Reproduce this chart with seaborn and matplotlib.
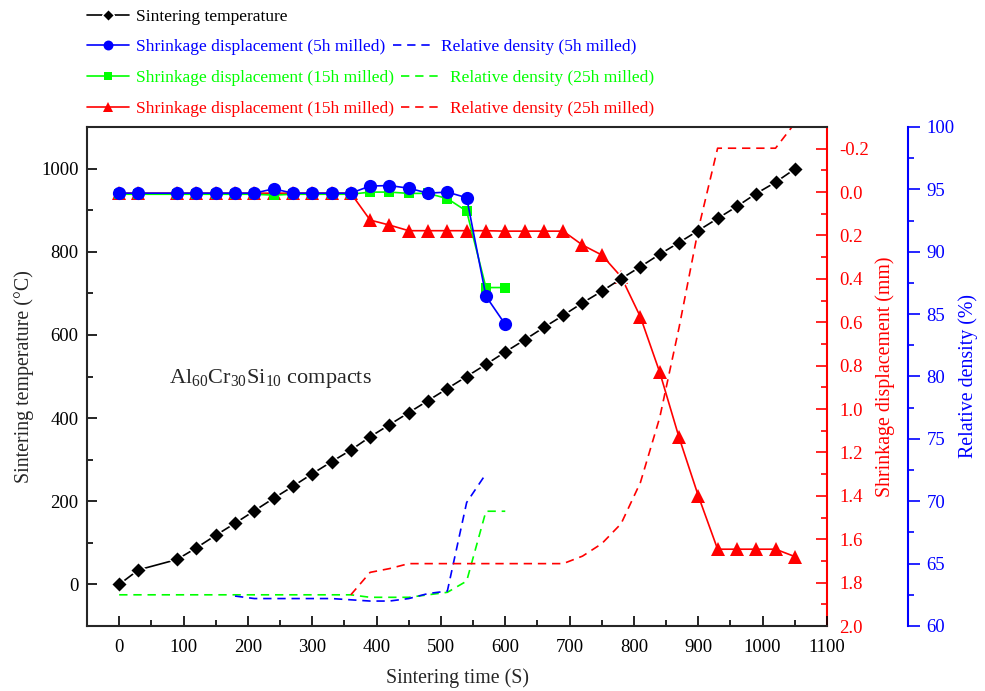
import numpy as np
import pandas as pd
import seaborn as sns
import matplotlib
matplotlib.use("Agg")
import matplotlib.pyplot as plt
from matplotlib.ticker import MultipleLocator, FormatStrFormatter

# Nhiệt độ thiêu kết theo thời gian
t_temp = [0, 30, 90, 120, 150, 180, 210, 240, 270, 300, 330, 360, 390, 420, 450, 480, 510, 540,
          570, 600, 630, 660, 690, 720, 750, 780, 810, 840, 870, 900, 930, 960, 990, 1020, 1050]
temp = [0, 35, 60, 88, 118, 147, 177, 207, 236, 266, 295, 323, 355, 384, 413, 442, 471, 500,
        529, 559, 588, 618, 647, 677, 705, 735, 764, 794, 822, 851, 880, 909, 940, 967, 999]

# Độ co ngót (mm)
t_shr = [0, 30, 90, 120, 150, 180, 210, 240, 270, 300, 330, 360, 390, 420, 450, 480, 510, 540, 570, 600]
shr_5h = [0.005, 0.005, 0.005, 0.005, 0.005, 0.005, 0.005, -0.015, 0.005, 0.005, 0.005, 0.005,
          -0.028, -0.03, -0.018, 0.005, 0.0, 0.026, 0.48, 0.61]
shr_15h = [0.01, 0.01, 0.01, 0.01, 0.01, 0.01, 0.01, 0.014, 0.01, 0.01, 0.01, 0.01,
           0.0, 0.0, 0.006, 0.006, 0.03, 0.088, 0.44, 0.44]
shr_25h = [0.005, 0.005, 0.005, 0.005, 0.005, 0.005, 0.005, 0.005, 0.005, 0.005, 0.005, 0.005,
           0.129, 0.152, 0.178, 0.178, 0.178, 0.178, 0.178, 0.18, 0.18, 0.18, 0.18, 0.244, 0.29,
           0.39, 0.575, 0.83, 1.13, 1.40, 1.646, 1.646, 1.646, 1.646, 1.68]

# Mật độ tương đối (%)
t_rd_5h = [180, 210, 240, 270, 300, 330, 360, 390, 420, 450, 480, 510, 540, 570]
rd_5h = [62.4, 62.2, 62.2, 62.2, 62.2, 62.2, 62.1, 62.0, 62.0, 62.2, 62.6, 62.8, 69.9, 72.2]
t_rd_15h = [0, 30, 60, 90, 120, 150, 180, 210, 240, 270, 300, 330, 360, 390, 420, 450,
            480, 510, 540, 570, 600]
rd_15h = [62.5, 62.5, 62.5, 62.5, 62.5, 62.5, 62.5, 62.5, 62.5, 62.5, 62.5, 62.5, 62.5, 62.3,
          62.3, 62.3, 62.5, 62.7, 63.6, 69.2, 69.2]
t_rd_25h = [360, 390, 420, 450, 480, 510, 540, 570, 600, 630, 660, 690, 720, 750, 780, 810,
            840, 870, 900, 930, 960, 990, 1020, 1050]
rd_25h = [62.5, 64.3, 64.6, 65.0, 65.0, 65.0, 65.0, 65.0, 65.0, 65.0, 65.0, 65.0, 65.6, 66.6,
          68.2, 71.5, 76.7, 83.9, 91.8, 98.3, 98.3, 98.3, 98.3, 100.3]

lbl_temp = "Sintering temperature"
lbl_shr = ["Shrinkage displacement (5h milled)", "Shrinkage displacement (15h milled)",
           "Shrinkage displacement (15h milled)"]
lbl_rd = ["Relative density (5h milled)", "Relative density (25h milled)",
          "Relative density (25h milled)"]

BLUE, GREEN, RED = "#0000ff", "#00ff00", "#ff0000"

sns.set_theme(style="ticks")
plt.rcParams["font.family"] = ["Liberation Serif", "DejaVu Serif"]
plt.rcParams["mathtext.fontset"] = "custom"
plt.rcParams["mathtext.rm"] = "Liberation Serif"
plt.rcParams["axes.unicode_minus"] = False

fig = plt.figure(figsize=(9.85, 6.91), dpi=100)
ax = fig.add_subplot(111)
fig.subplots_adjust(left=87/985, right=827/985, top=1-127/691, bottom=1-626/691)
ax2 = ax.twinx()
ax3 = ax.twinx()
ax3.set_zorder(1)
ax2.set_zorder(2)
ax.set_zorder(3)
for a in (ax, ax2, ax3):
    a.patch.set_visible(False)

# Mật độ tương đối (nét đứt)
dash = (5, 3.5)
sns.lineplot(x=t_rd_15h, y=rd_15h, ax=ax3, color=GREEN, lw=1.2, dashes=False)
l_rd15 = ax3.lines[-1]
sns.lineplot(x=t_rd_5h, y=rd_5h, ax=ax3, color=BLUE, lw=1.2, dashes=False)
l_rd5 = ax3.lines[-1]
sns.lineplot(x=t_rd_25h, y=rd_25h, ax=ax3, color=RED, lw=1.2, dashes=False)
l_rd25 = ax3.lines[-1]
for l in (l_rd5, l_rd15, l_rd25):
    l.set_dashes(dash)

# Độ co ngót
sns.lineplot(x=t_temp, y=shr_25h, ax=ax2, color=RED, lw=1.2, marker="^", markersize=10,
             markeredgecolor=RED, markeredgewidth=0)
l_s25 = ax2.lines[-1]
sns.lineplot(x=t_shr, y=shr_15h, ax=ax2, color=GREEN, lw=1.2, marker="s", markersize=7,
             markeredgecolor=GREEN, markeredgewidth=0)
l_s15 = ax2.lines[-1]
sns.lineplot(x=t_shr, y=shr_5h, ax=ax2, color=BLUE, lw=1.2, marker="o", markersize=9.5,
             markeredgecolor=BLUE, markeredgewidth=0)
l_s5 = ax2.lines[-1]

# Nhiệt độ (viền trắng tạo khoảng hở giữa đường và ký hiệu)
sns.lineplot(x=t_temp, y=temp, ax=ax, color="black", lw=1.2, marker="D", markersize=8.2,
             markeredgecolor="white", markeredgewidth=1.0)
l_temp = ax.lines[-1]

# Trục
ax.set_xlim(-50, 1100)
ax.set_ylim(-100, 1100)
ax.xaxis.set_major_locator(MultipleLocator(100))
ax.xaxis.set_minor_locator(MultipleLocator(50))
ax.yaxis.set_major_locator(MultipleLocator(200))
ax.yaxis.set_minor_locator(MultipleLocator(100))
ax.tick_params(which="both", direction="in", top=False, right=False, labelsize=13.5,
               width=1.2, colors="black")
ax.tick_params(which="major", length=7, pad=6)
ax.tick_params(axis="x", which="major", pad=9)
ax.tick_params(which="minor", length=4)
ax.spines["right"].set_visible(False)
for s in ("left", "bottom", "top"):
    ax.spines[s].set_linewidth(1.5)
ax.set_xlabel("Sintering time (S)", fontsize=14.3, labelpad=9)
ax.set_ylabel("Sintering temperature (\u00b0C)", fontsize=14.3, labelpad=5)

ax2.set_ylim(2.0, -0.3)
ax2.yaxis.set_major_locator(MultipleLocator(0.2))
ax2.yaxis.set_minor_locator(MultipleLocator(0.1))
ax2.yaxis.set_major_formatter(FormatStrFormatter("%.1f"))
ax2.tick_params(axis="y", which="both", direction="in", colors=RED, labelsize=13.5, width=1.2)
ax2.tick_params(axis="y", which="major", length=8, pad=9)
ax2.tick_params(axis="y", which="minor", length=4)
for s in ("left", "bottom", "top"):
    ax2.spines[s].set_visible(False)
ax2.spines["right"].set_color(RED)
ax2.spines["right"].set_linewidth(1.5)
ax2.set_ylabel("Shrinkage displacement (mm)", color=RED, fontsize=14.3, labelpad=4)

ax3.set_ylim(60, 100)
ax3.yaxis.set_major_locator(MultipleLocator(5))
ax3.yaxis.set_minor_locator(MultipleLocator(2.5))
ax3.spines["right"].set_position(("outward", 58))
ax3.tick_params(axis="y", which="both", direction="out", colors=BLUE, labelsize=13.5, width=1.2)
ax3.tick_params(axis="y", which="major", length=8.5, pad=5)
ax3.tick_params(axis="y", which="minor", length=4)
for s in ("left", "bottom", "top"):
    ax3.spines[s].set_visible(False)
ax3.spines["right"].set_color(BLUE)
ax3.spines["right"].set_linewidth(1.5)
ax3.set_ylabel("Relative density (%)", color=BLUE, fontsize=14.3, labelpad=3)

ax.text(78, 496, r"Al$_{\mathrm{60}}$Cr$_{\mathrm{30}}$Si$_{\mathrm{10}}$ compacts",
        fontsize=16, va="center", ha="left")

# Chú thích: 4 hàng
rows = [
    ([l_temp], [lbl_temp], 17),
    ([l_s5, l_rd5], [lbl_shr[0], lbl_rd[0]], 47),
    ([l_s15, l_rd15], [lbl_shr[1], lbl_rd[1]], 78),
    ([l_s25, l_rd25], [lbl_shr[2], lbl_rd[2]], 109),
]
for hs, ls, yy in rows:
    leg = fig.legend(hs, ls, loc="center left", bbox_to_anchor=(87/985, 1 - yy/691),
                     ncol=len(hs), frameon=False, fontsize=12.5, handlelength=2.4,
                     handletextpad=0.4, columnspacing=0.45, borderpad=0, borderaxespad=0,
                     labelcolor="linecolor", markerscale=0.75)

fig.savefig("out.png", dpi=100)
